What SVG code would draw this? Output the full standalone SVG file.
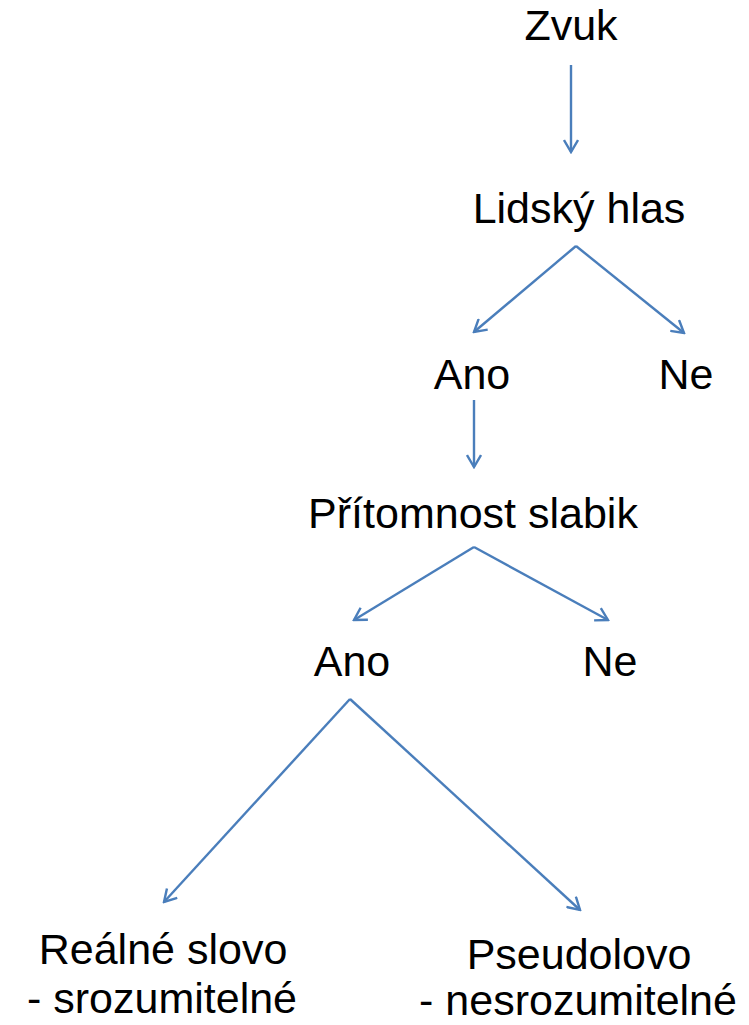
<svg xmlns="http://www.w3.org/2000/svg" width="749" height="1025" viewBox="0 0 749 1025">
<style>
text{font-family:"Liberation Sans",Arial,sans-serif;font-size:43px;fill:#000;text-anchor:middle}
.c line{stroke:#4a7ebb;stroke-width:2.4;fill:none}
</style>
<defs>
<marker id="a" viewBox="-14 -8 16 16" refX="0" refY="0" markerWidth="16" markerHeight="16" markerUnits="userSpaceOnUse" orient="auto">
<path d="M-12,-7 L0,0 L-12,7" stroke="#4a7ebb" stroke-width="2.4" fill="none"/>
</marker>
</defs>
<g id="connectors" class="c">
<line x1="571" y1="65" x2="571" y2="152" marker-end="url(#a)"/>
<line x1="576" y1="246" x2="474" y2="332" marker-end="url(#a)"/>
<line x1="576" y1="246" x2="684" y2="333" marker-end="url(#a)"/>
<line x1="474" y1="400" x2="474" y2="467" marker-end="url(#a)"/>
<line x1="474" y1="547" x2="354" y2="620" marker-end="url(#a)"/>
<line x1="474" y1="547" x2="608" y2="620" marker-end="url(#a)"/>
<line x1="350" y1="699" x2="164" y2="902" marker-end="url(#a)"/>
<line x1="350" y1="699" x2="580" y2="910" marker-end="url(#a)"/>
</g>
<g id="zvuk"><text x="571" y="40">Zvuk</text></g>
<g id="lidsky"><text x="579" y="223">Lidský hlas</text></g>
<g id="ano1"><text x="472" y="389">Ano</text></g>
<g id="ne1"><text x="686" y="389">Ne</text></g>
<g id="pritomnost"><text x="473" y="528">Přítomnost slabik</text></g>
<g id="ano2"><text x="352" y="676">Ano</text></g>
<g id="ne2"><text x="610" y="676">Ne</text></g>
<g id="realne"><text x="163" y="964">Reálné slovo</text><text x="162" y="1013">- srozumitelné</text></g>
<g id="pseudo"><text x="579" y="969">Pseudolovo</text><text x="578" y="1015">- nesrozumitelné</text></g>
</svg>
